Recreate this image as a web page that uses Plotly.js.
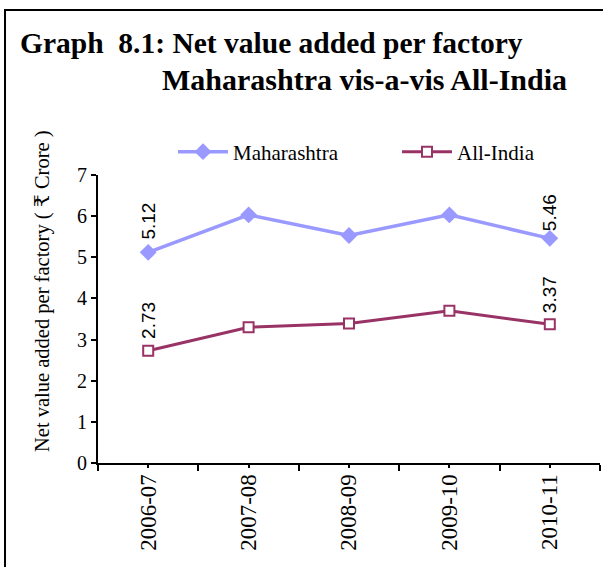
<!DOCTYPE html>
<html>
<head>
<meta charset="utf-8">
<script src="https://cdn.plot.ly/plotly-3.0.1.min.js"></script>
<style>
html,body{margin:0;padding:0;background:#fff;overflow:hidden;}
#chart{width:603px;height:567px;}
</style>
</head>
<body>
<div id="chart"></div>
<script>
// ---- data ----
const years = ["2006-07", "2007-08", "2008-09", "2009-10", "2010-11"];
const maharashtra = [5.12, 6.03, 5.53, 6.03, 5.46];
const allIndia = [2.73, 3.30, 3.39, 3.70, 3.37];
const seriesNames = ["Maharashtra", "All-India"];
const labelledIdx = [0, 4]; // points that carry data labels
const titleLine1 = "Graph  8.1: Net value added per factory";
const titleLine2 = "Maharashtra vis-a-vis All-India";
const yTitle = "Net value added per factory ( \u20B9 Crore )";

// ---- geometry helpers ----
const W = 603, H = 567;
const M = {l: 98, r: 3, t: 175, b: 104};
const PW = W - M.l - M.r, PH = H - M.t - M.b;
const px2x = p => (p - M.l) / PW;
const px2y = p => 1 - (p - M.t) / PH;

const serif = "Liberation Serif, Times New Roman, DejaVu Serif, serif";
const sans = "Liberation Sans, Arial, sans-serif";
const cMah = "#9999FF", cInd = "#993366";

const traces = [
  {
    x: years, y: maharashtra, name: seriesNames[0], type: "scatter", mode: "lines+markers",
    line: {color: cMah, width: 3.5},
    marker: {symbol: "diamond", size: 13, color: cMah},
    xaxis: "x", yaxis: "y", hoverinfo: "x+y", legend: "legend"
  },
  {
    x: years, y: allIndia, name: seriesNames[1], type: "scatter", mode: "lines+markers",
    line: {color: cInd, width: 3},
    marker: {symbol: "square", size: 10, color: "#ffffff", line: {color: cInd, width: 2}},
    xaxis: "x2", yaxis: "y", hoverinfo: "x+y", legend: "legend2"
  }
];

const lblFont = {family: sans, size: 19, color: "#000"};
const annotations = [];
labelledIdx.forEach(i => {
  annotations.push({
    x: years[i], y: maharashtra[i], xref: "x", yref: "y",
    text: maharashtra[i].toFixed(2), textangle: -90, showarrow: false,
    xanchor: "center", yanchor: "middle", yshift: i === 0 ? 31 : 26,
    font: lblFont
  });
  annotations.push({
    x: years[i], y: allIndia[i], xref: "x2", yref: "y",
    text: allIndia[i].toFixed(2), textangle: -90, showarrow: false,
    xanchor: "center", yanchor: "middle", yshift: 30,
    font: lblFont
  });
});
annotations.push({
  x: px2x(18), y: px2y(43), xref: "paper", yref: "paper",
  text: "<b>" + titleLine1 + "</b>", showarrow: false, xanchor: "left", yanchor: "middle",
  font: {family: serif, size: 29.5, color: "#000"}
});
annotations.push({
  x: px2x(160), y: px2y(79), xref: "paper", yref: "paper",
  text: "<b>" + titleLine2 + "</b>", showarrow: false, xanchor: "left", yanchor: "middle",
  font: {family: serif, size: 30, color: "#000"}
});
annotations.push({
  x: px2x(42), y: px2y(291), xref: "paper", yref: "paper",
  text: yTitle, textangle: -90, showarrow: false, xanchor: "center", yanchor: "middle",
  font: {family: serif, size: 20.5, color: "#000"}
});

const legFont = {family: serif, size: 21, color: "#000"};
const layout = {
  width: W, height: H,
  margin: M,
  paper_bgcolor: "#fff", plot_bgcolor: "#fff",
  showlegend: true,
  legend: {
    orientation: "h", x: px2x(173), y: px2y(152), xanchor: "left", yanchor: "middle",
    font: legFont, bgcolor: "rgba(0,0,0,0)", itemwidth: 50
  },
  legend2: {
    orientation: "h", x: px2x(397), y: px2y(152), xanchor: "left", yanchor: "middle",
    font: legFont, bgcolor: "rgba(0,0,0,0)", itemwidth: 50
  },
  xaxis: {
    type: "category", categoryarray: years, range: [-0.5, 4.5],
    tickson: "boundaries", ticks: "outside", ticklen: 6, tickwidth: 2, tickcolor: "#000",
    showline: true, linecolor: "#000", linewidth: 2, showgrid: false, zeroline: false,
    tickangle: -90, tickfont: {family: serif, size: 23, color: "#000"}, fixedrange: true
  },
  xaxis2: {
    type: "category", categoryarray: years, range: [-0.5, 4.5], overlaying: "x", anchor: "y",
    side: "bottom", ticks: "outside", ticklen: 4, tickwidth: 2, tickcolor: "#000",
    showticklabels: false, showline: false, showgrid: false, zeroline: false, fixedrange: true
  },
  yaxis: {
    range: [0, 7], dtick: 1, ticks: "outside", ticklen: 5, tickwidth: 2, tickcolor: "#000",
    showline: true, linecolor: "#000", linewidth: 2, showgrid: false, zeroline: false,
    tickfont: {family: serif, size: 20, color: "#000"}, fixedrange: true
  },
  annotations: annotations,
  shapes: [{
    type: "rect", xref: "paper", yref: "paper", layer: "above",
    x0: px2x(5), y0: px2y(10), x1: px2x(700), y1: px2y(700),
    line: {color: "#000", width: 2}, fillcolor: "rgba(0,0,0,0)"
  }]
};

Plotly.newPlot("chart", traces, layout, {displayModeBar: false, staticPlot: true});
</script>
</body>
</html>
